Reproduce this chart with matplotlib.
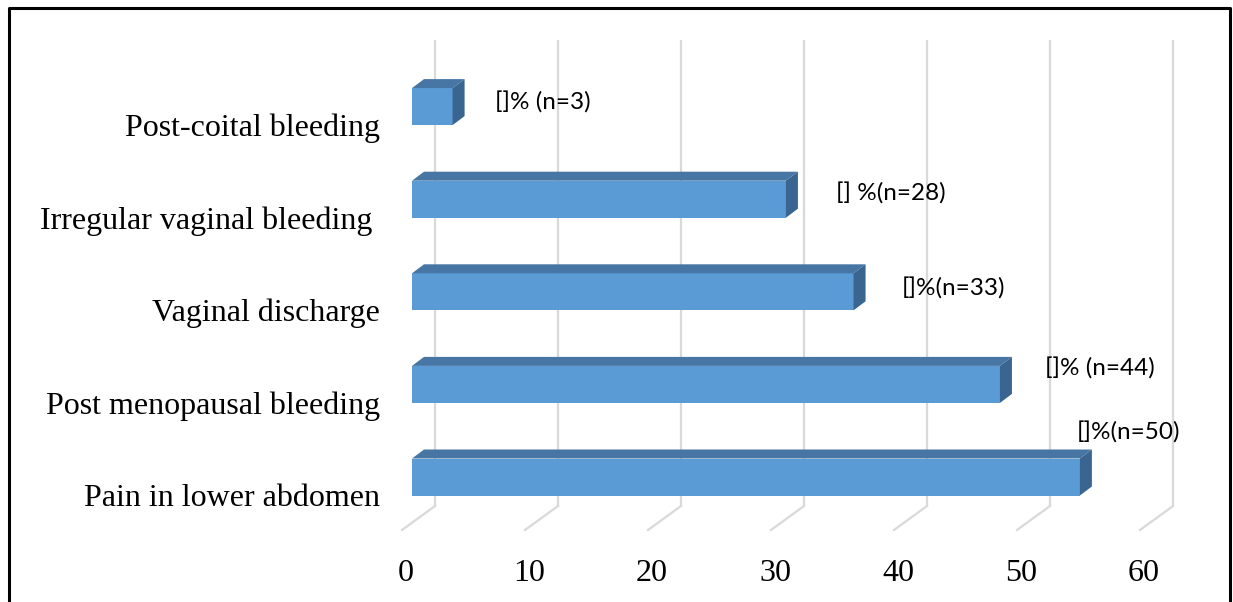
import matplotlib.pyplot as plt
from matplotlib.patches import Polygon

# data (bottom to top, as drawn)
categories = ["Pain in lower abdomen", "Post menopausal bleeding", "Vaginal discharge",
              "Irregular vaginal bleeding ", "Post-coital bleeding"]
values = [54.3, 47.8, 35.9, 30.4, 3.3]
bar_labels = ["[]%(n=50)", "[]% (n=44)", "[]%(n=33)", "[] %(n=28)", "[]% (n=3)"]
ticks = [0, 10, 20, 30, 40, 50, 60]

# layout, in pixels of the 1233x602 picture
W, H = 1233, 602
x0_px, unit_px = 412, 12.3      # where value 0 sits on the bar front, px per unit
y0_px, step_px = 477, 92.6      # centre of lowest bar, px per category
label_offsets_px = [(-3, 44), (45, 16), (48, 3), (50, 6), (42, 4)]

front_col = "#5b9bd5"
top_col = "#4776a4"
side_col = "#3a6590"
grid_col = "#d9d9d9"


def dx(p):
    return p / unit_px


def dy(p):
    return p / step_px


def ypx(p):
    return (y0_px - p) / step_px


fig = plt.figure(figsize=(W / 100, H / 100), dpi=100)
ax = fig.add_axes([0, 0, 1, 1])
ax.set_xlim(-x0_px / unit_px, (W - x0_px) / unit_px)
ax.set_ylim((y0_px - H) / step_px, y0_px / step_px)
ax.axis("off")

# back wall gridlines and floor lines
for t in ticks:
    xb = t + dx(23)
    ax.plot([xb, xb], [ypx(506), ypx(40)], color=grid_col, lw=1.6, zorder=1,
            solid_capstyle="butt")
    ax.plot([xb, t + dx(-10)], [ypx(506), ypx(530)], color=grid_col, lw=1.6, zorder=1)
    ax.text(t + dx(-6), ypx(581), str(t), ha="center", va="baseline",
            family="Liberation Serif", fontsize=23, color="black")

# 3d bars
h = dy(37)
ddx, ddy = dx(12), dy(9)
pos = list(range(len(values)))
ax.barh(pos, values, height=h, left=0, color=front_col, zorder=3, linewidth=0)
for i, v in enumerate(values):
    top, bot = i + h / 2, i - h / 2
    ax.add_patch(Polygon([(0, top), (v, top), (v + ddx, top + ddy), (ddx, top + ddy)],
                         closed=True, facecolor=top_col, edgecolor="none", zorder=3))
    ax.add_patch(Polygon([(v, bot), (v, top), (v + ddx, top + ddy), (v + ddx, bot + ddy)],
                         closed=True, facecolor=side_col, edgecolor="none", zorder=3))
    ax.text(dx(-32), i - dy(29.5), categories[i], ha="right", va="baseline",
            family="Liberation Serif", fontsize=23, color="black")
    ox, oy = label_offsets_px[i]
    ax.text(v + dx(ox), i + dy(oy), bar_labels[i], ha="left", va="center",
            family="Lato", fontsize=17.5, color="black")

# outer frame (open at the bottom)
fl, fr, ft = 8.5 / W, 1229.5 / W, 1 - 8 / H
ax.plot([fl, fl, fr, fr], [0, ft, ft, 0], transform=ax.transAxes, color="black",
        lw=2.2, clip_on=False, zorder=5)

fig.savefig("out.png", dpi=100)
